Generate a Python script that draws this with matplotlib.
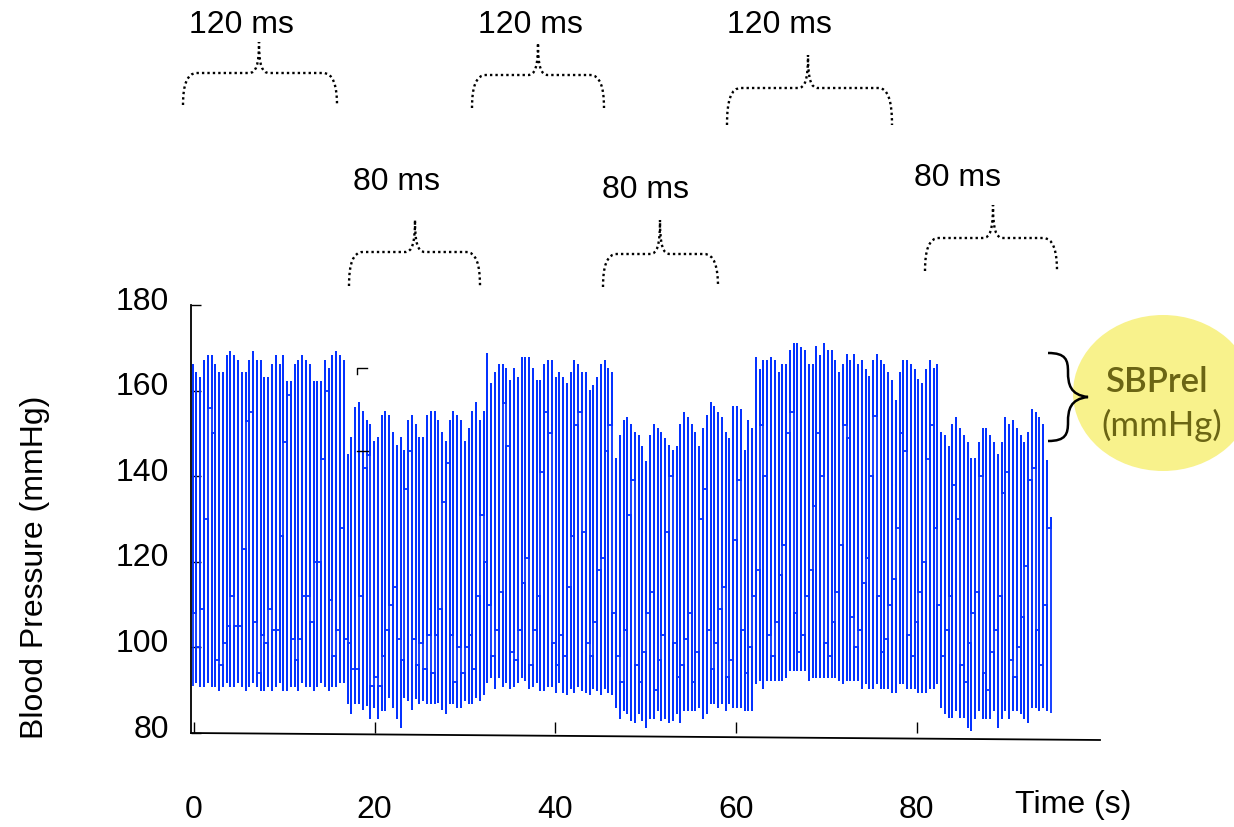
import numpy as np
import matplotlib
matplotlib.use("Agg")
import matplotlib.pyplot as plt
from matplotlib import font_manager
from matplotlib.path import Path
from matplotlib.patches import PathPatch, Ellipse
from matplotlib.transforms import Affine2D, ScaledTranslation

# ---------------------------------------------------------------- data
# Beat-to-beat pressure strokes (mmHg), one entry per stroke, grouped by
# pacing block.  *_sys = stroke top, *_dia = stroke bottom,
# *_notch = level where a stroke hands over to the next one.
seg1_sys = [166, 164, 163, 167, 168, 168, 166, 164, 164, 168, 169, 168, 167, 164,
            164, 167, 169, 167, 167, 163, 163, 166, 168, 166, 168, 162, 162, 166,
            167, 168, 167, 166, 162, 162, 162, 167, 165, 168, 169, 168, 167]
seg1_dia = [91, 92, 91, 91, 92, 91, 91, 90, 91, 92, 91, 91, 92, 91, 90, 91, 92,
            91, 90, 90, 91, 90, 91, 92, 90, 90, 91, 91, 90, 92, 91, 91, 90, 91,
            92, 91, 90, 91, 91, 92, 92]
seg1_notch = [108, 100, 109, 130, 156, 150, 97, 96, 101, 105, 112, 105, 105, 123,
              153, 155, 106, 94, 103, 101, 109, 104, 104, 126, 148, 159, 102, 97,
              102, 112, 112, 106, 120, 120, 144, 160, 111, 98, 104, 128, 102]

seg2_sys = [145, 149, 156, 157, 155, 153, 152, 148, 149, 154, 155, 154, 150, 147,
            149, 146, 153, 154, 152, 149, 149, 154, 155, 155, 153, 150, 148, 153,
            155, 154, 153, 148, 151, 155, 157, 153, 155]
seg2_dia = [86.9, 84.6, 86.9, 86.9, 85.7, 86.5, 83.4, 86.1, 83.4, 85.4, 85.4, 88.5,
            86.1, 83.4, 81.5, 88.5, 87.7, 85.7, 88.1, 86.9, 87.7, 86.9, 86.9, 86.9,
            87.3, 85.5, 84.6, 86.9, 86.9, 86.1, 86.1, 87.7, 86.9, 86.9, 88.5, 87.7,
            89.2]
seg2_notch = [101, 95, 95, 112, 142, 145, 91, 93, 91, 98, 104, 110, 114, 102, 97,
              137, 146, 102, 96, 101, 95, 103, 94, 103, 109, 134, 143, 103, 92, 100,
              94, 100, 103, 95, 112, 131, 120]

seg3_sys = [168.5, 161.5, 164, 166, 166, 165, 162.3, 165, 163, 167.7, 167.7, 167.7,
            165, 162.3, 162.3, 166, 166.8, 166.8, 163, 164, 163, 161.5, 164, 166.8,
            166, 164, 164, 160, 161, 163, 166, 166.8, 165, 164]
seg3_dia = [92, 93, 90.5, 93, 91, 92, 90.5, 91, 92, 93, 92.5, 90.5, 91, 92, 90, 90,
            91, 91, 89.5, 92, 89.5, 89, 90.5, 89.5, 91, 90, 89.5, 89, 90.5, 90, 89,
            90.5, 89.5, 89]
seg3_notch = [110, 98, 104, 113, 157, 147, 99, 97, 104, 115, 121, 96, 104, 112, 141,
              155, 150, 101, 96, 103, 98, 114, 126, 152, 155, 127, 101, 98, 106, 118,
              121, 146, 152, 108]

seg4_sys = [144, 149.4, 152.8, 153.7, 152, 150.2, 149.4, 146.9, 143.3, 149.4, 151.9,
            151.1, 150.2, 148.6, 147, 145.8, 146.9, 151.9, 154.7, 153.7, 151.9, 150.2,
            146.9, 151.1, 154, 157.2, 156.2, 154.7, 153.7, 150.2, 148.6, 156.2, 156.2,
            155.4, 145.8, 152.8, 151.1]
seg4_dia = [86.1, 83.4, 85.4, 84.6, 83, 82.6, 84.6, 83, 81.5, 83.4, 83.4, 85.4, 83,
            83.4, 82.6, 83, 84.6, 82.6, 85.4, 85.4, 85.4, 85.4, 86.1, 83.4, 84.6, 86.9,
            86.9, 86.1, 86.9, 85.4, 86.9, 86.1, 86.1, 86.1, 85.4, 85.4, 85.4]
seg4_notch = [98, 92, 104, 131, 139, 96, 92, 99, 108, 113, 90, 97, 103, 127, 140, 101,
              93, 96, 102, 108, 92, 99, 130, 137, 104, 95, 101, 109, 114, 93, 97, 125,
              139, 104, 94, 100, 112]

seg5_sys = [167.7, 164.9, 166.8, 166.8, 167.7, 166.8, 164, 165.9, 165.9, 169.3, 170.8,
            170.8, 170, 169.3, 165.9, 165.9, 170.2, 168, 170.8, 169.3, 169.3, 166.8, 164,
            165.9, 168.3, 167, 168.3, 166, 166.8, 164.8, 163.2, 166.8, 168.3, 166.8,
            165.9, 164, 162.3, 157.5, 164, 166.8, 166.8, 165.9, 164.8, 162.4, 161.5,
            164.8, 166.8, 165, 165.9]
seg5_dia = [91.6, 92.4, 90.4, 92.4, 92.4, 92.4, 92.4, 92.4, 93.1, 94.7, 94.7, 94.7,
            94.7, 94.7, 92.4, 93.1, 93.1, 93.1, 93.1, 93.1, 93.1, 93.1, 92.4, 91.6, 92.4,
            92.4, 92.4, 92.4, 90.4, 91.6, 90.4, 90.4, 91.6, 90.4, 90.4, 90.4, 89.6, 89.6,
            91.6, 91.6, 90.4, 90.4, 90.4, 89.6, 89.6, 89.6, 90.4, 90.4, 91.6]
seg5_notch = [118, 152, 140, 103, 98, 106, 117, 124, 150, 155, 108, 99, 103, 112, 118,
              133, 150, 140, 101, 98, 106, 113, 124, 152, 149, 107, 100, 104, 115, 121,
              140, 154, 112, 99, 102, 110, 116, 128, 150, 146, 103, 98, 106, 113, 120,
              144, 152, 128, 110]

seg6_sys = [150.2, 149.4, 146.9, 151.9, 153.7, 151.1, 149.4, 147.7, 144.1, 144.1, 147.7,
            151.1, 151.1, 149.4, 147.7, 145, 147.7, 153.7, 152, 152.8, 151.1, 149.4,
            147.7, 150.2, 155.4, 154.7, 153.7, 151.9, 143.6, 130.3]
seg6_dia = [86.1, 84.6, 83.8, 83.8, 85.4, 83.8, 83.8, 81.5, 80.7, 83.4, 85.4, 83.4, 83.4,
            83.4, 85.4, 81.5, 83.4, 85.4, 83.4, 85.4, 85.4, 84.6, 83.4, 82.6, 86.1, 86.1,
            85.4, 86.1, 85.4, 84.6]
seg6_notch = [98, 104, 112, 138, 130, 96, 92, 101, 108, 113, 140, 94, 90, 99, 104, 112,
              136, 141, 97, 93, 100, 107, 119, 139, 142, 104, 96, 110, 128]

sample_start = -0.15      # s
sample_period = 0.4185    # s between strokes

x_ticks = [0, 20, 40, 60, 80]
y_ticks = [80, 100, 120, 140, 160, 180]

top_labels = ["120 ms", "120 ms", "120 ms"]
bottom_labels = ["80 ms", "80 ms", "80 ms"]

# ---------------------------------------------------------------- style
available = {f.name for f in font_manager.fontManager.ttflist}
if "Liberation Sans Narrow" in available:
    main_font, main_size = "Liberation Sans Narrow", 27
else:
    main_font, main_size = "Liberation Sans", 23
plt.rcParams["font.family"] = [main_font, "DejaVu Sans"]

W, H = 1234, 827
fig = plt.figure(figsize=(W / 100, H / 100), dpi=100)
px = Affine2D().scale(1 / W, -1 / H).translate(0, 1) + fig.transFigure

ax = fig.add_axes([191 / W, 1 - 733 / H, (1100 - 191) / W, (733 - 305) / H])

# ---------------------------------------------------------------- signal
sys_all = np.concatenate([seg1_sys, seg2_sys, seg3_sys, seg4_sys, seg5_sys, seg6_sys])
dia_all = np.concatenate([seg1_dia, seg2_dia, seg3_dia, seg4_dia, seg5_dia, seg6_dia])
notch_all = np.concatenate([seg1_notch, seg2_notch, seg3_notch, seg4_notch,
                            seg5_notch, seg6_notch])
n = len(sys_all)
t = sample_start + sample_period * np.arange(n)

xs, ys = [], []
for k in range(n):
    if k > 0:
        xs.append(t[k]); ys.append(notch_all[k - 1])
    first, second = (dia_all[k], sys_all[k]) if k % 2 == 0 else (sys_all[k], dia_all[k])
    xs += [t[k], t[k]]; ys += [first, second]
    if k < n - 1:
        xs.append(t[k]); ys.append(notch_all[k])

ax.plot(xs, ys, color="#0532ff", lw=1.3, solid_joinstyle="round",
        solid_capstyle="butt")

# ---------------------------------------------------------------- axes
ax.set_xlim(-0.33, 100.3)
ax.set_ylim(80, 180)
for side in ("top", "right", "bottom"):
    ax.spines[side].set_visible(False)
ax.spines["left"].set_linewidth(1.3)
ax.plot([0, 1], [0, -7 / 428], transform=ax.transAxes, color="black", lw=1.3,
        clip_on=False)

ax.set_xticks(x_ticks)
ax.set_xticklabels([str(v) for v in x_ticks])
ax.set_yticks(y_ticks)
ax.set_yticklabels([str(v) for v in y_ticks])
ax.tick_params(axis="x", direction="in", length=8, width=1, pad=45, labelsize=main_size)
ax.tick_params(axis="y", direction="in", length=7, width=1, pad=16, labelsize=main_size)
for lab in ax.get_yticklabels():
    lab.set_transform(lab.get_transform() + ScaledTranslation(0, 0.07, fig.dpi_scale_trans))

# stray calibration marks
ax.plot([18.1, 18.1, 19.2], [163.8, 165.2, 165.2], color="black", lw=1, clip_on=False)
ax.plot([18.1, 19.3], [146, 146], color="black", lw=1, clip_on=False)

fig.text(35 / W, 1 - 567 / H, "Blood Pressure (mmHg)", rotation=90,
         ha="center", va="center", fontsize=main_size)
fig.text(1073 / W, 1 - 805 / H, "Time (s)", ha="center", va="center", fontsize=main_size)


# ---------------------------------------------------------------- braces
def dotted_brace(x0, x1, xc, y_tip, y_flat, y_end):
    r = min(14, (xc - x0) / 3)
    verts = [
        (x0, y_end),
        (x0, y_flat + 12), (x0 + 4, y_flat), (x0 + r, y_flat),
        (xc - 10, y_flat),
        (xc - 3, y_flat), (xc, y_flat - 8), (xc, y_tip),
        (xc, y_flat - 8), (xc + 3, y_flat), (xc + 10, y_flat),
        (x1 - r, y_flat),
        (x1 - 4, y_flat), (x1, y_flat + 12), (x1, y_end),
    ]
    codes = [Path.MOVETO,
             Path.CURVE4, Path.CURVE4, Path.CURVE4,
             Path.LINETO,
             Path.CURVE4, Path.CURVE4, Path.CURVE4,
             Path.CURVE4, Path.CURVE4, Path.CURVE4,
             Path.LINETO,
             Path.CURVE4, Path.CURVE4, Path.CURVE4]
    fig.add_artist(PathPatch(Path(verts, codes), transform=px, fill=False,
                             edgecolor="black", lw=1.7, linestyle=(0, (1, 1.3))))


top_braces = [(183, 337, 259, 42, 73, 105, 241, 25),
              (472, 604, 538, 43, 75, 108, 530, 25),
              (727, 892, 808, 55, 88, 125, 779, 25)]
bottom_braces = [(349, 480, 415, 220, 252, 286, 396, 182),
                 (603, 718, 660, 220, 254, 287, 645, 190),
                 (925, 1057, 993, 205, 238, 271, 958, 178)]
for label, (x0, x1, xc, yt, yf, ye, lx, ly) in zip(top_labels + bottom_labels,
                                                    top_braces + bottom_braces):
    dotted_brace(x0, x1, xc, yt, yf, ye)
    fig.text(lx / W, 1 - ly / H, label, ha="center", va="center", fontsize=main_size)

# ---------------------------------------------------------------- SBPrel callout
fig.add_artist(Ellipse((1163, 393), 180, 156, transform=px, facecolor="#f8f28c",
                       edgecolor="none"))
bverts = [(1048, 353), (1066, 353), (1068, 360), (1068, 372),
          (1068, 384), (1070, 395), (1088, 397),
          (1070, 399), (1068, 410), (1068, 422),
          (1068, 434), (1066, 441), (1048, 441)]
bcodes = [Path.MOVETO, Path.CURVE4, Path.CURVE4, Path.CURVE4,
          Path.CURVE4, Path.CURVE4, Path.CURVE4,
          Path.CURVE4, Path.CURVE4, Path.CURVE4,
          Path.CURVE4, Path.CURVE4, Path.CURVE4]
fig.add_artist(PathPatch(Path(bverts, bcodes), transform=px, fill=False,
                         edgecolor="black", lw=1.8))
fig.text(1156 / W, 1 - 382 / H, "SBPrel", ha="center", va="center", fontsize=25,
         color="#6b6514", weight="semibold", family=["Lato", "DejaVu Sans"])
fig.text(1162 / W, 1 - 425 / H, "(mmHg)", ha="center", va="center", fontsize=25,
         color="#6b6514", family=["Lato", "DejaVu Sans"])

fig.savefig("out.png", dpi=100)
